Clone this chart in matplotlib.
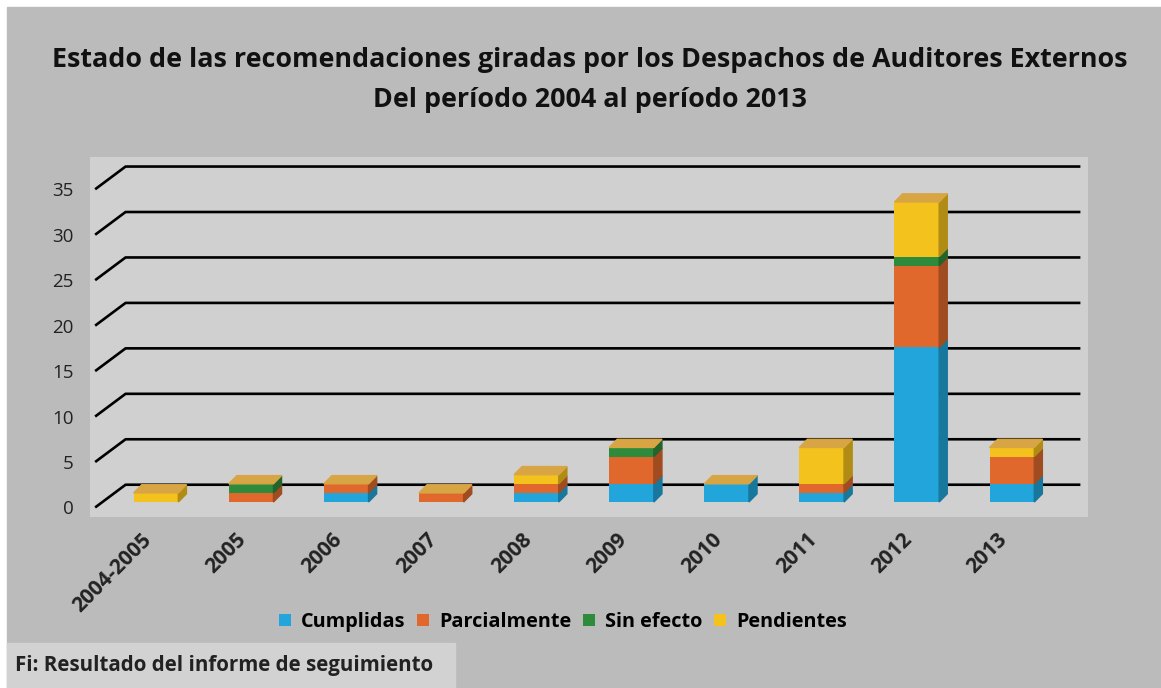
import numpy as np
import matplotlib.pyplot as plt
from matplotlib.patches import Polygon, Rectangle
import matplotlib.colors as mcolors

plt.rcParams['font.family'] = ['Open Sans', 'DejaVu Sans']

# Data
periods = ['2004-2005', '2005', '2006', '2007', '2008',
           '2009', '2010', '2011', '2012', '2013']
cumplidas    = [0, 0, 1, 0, 1, 2, 2, 1, 17, 2]
parcialmente = [0, 1, 1, 1, 1, 3, 0, 1, 9, 3]
sin_efecto   = [0, 1, 0, 0, 0, 1, 0, 0, 1, 0]
pendientes   = [1, 0, 0, 0, 1, 0, 0, 4, 6, 1]

series = [('Cumplidas', cumplidas, '#22a5da'),
          ('Parcialmente', parcialmente, '#e0682c'),
          ('Sin efecto', sin_efecto, '#2f8b3c'),
          ('Pendientes', pendientes, '#f4c21c')]

W, H = 1161, 688
fig = plt.figure(figsize=(W / 100, H / 100), dpi=100)
fig.patch.set_facecolor('white')

# outer grey card and source box
fig.patches.append(Rectangle((7 / W, 0), 1, 1 - 7 / H, transform=fig.transFigure,
                             color='#bbbbbb', zorder=-10))
fig.patches.append(Rectangle((7 / W, 0), (455 - 7) / W, 45 / H, transform=fig.transFigure,
                             color='#d2d2d2', zorder=-9))

ax = fig.add_axes([90 / W, 1 - 517 / H, (1088 - 90) / W, (517 - 157) / H])
ax.set_facecolor('#d0d0d0')
for s in ax.spines.values():
    s.set_visible(False)

x = np.arange(len(periods))
ax.set_xlim(-0.694, 9.80)
ax.set_ylim(-1.65, 37.95)

# back wall gridlines (3D style): front edge slightly below, wall behind
front_off, wall_dy, wall_dx = 0.6, 1.9, 0.32
xl = -0.64
ticks = list(range(0, 40, 5))
for v in ticks:
    ax.plot([xl, xl + wall_dx, 9.72], [v - front_off, v + wall_dy, v + wall_dy],
            color='black', lw=1.9, zorder=1, solid_capstyle='butt')

# 3D-looking stacked bars
bw = 0.47
ddx, ddy = 0.085, 0.9
top_col = '#d8a545'


def darker(c, f=0.72):
    r, g, b = mcolors.to_rgb(c)
    return (r * f, g * f, b * f)


bottom = np.zeros(len(periods))
for name, vals, col in series:
    vals = np.array(vals, dtype=float)
    ax.bar(x, vals, bw, bottom=bottom, color=col, zorder=3, label=name)
    for i in range(len(periods)):
        if vals[i] <= 0:
            continue
        b0, b1 = bottom[i], bottom[i] + vals[i]
        xr = x[i] + bw / 2
        ax.add_patch(Polygon([(xr, b0), (xr + ddx, b0 + ddy), (xr + ddx, b1 + ddy), (xr, b1)],
                             closed=True, color=darker(col), zorder=3))
    bottom += vals

for i in range(len(periods)):
    xl0, xr0 = x[i] - bw / 2, x[i] + bw / 2
    t = bottom[i]
    ax.add_patch(Polygon([(xl0, t), (xl0 + ddx, t + ddy), (xr0 + ddx, t + ddy), (xr0, t)],
                         closed=True, color=top_col, zorder=4))

ax.set_yticks([v - front_off for v in ticks])
ax.set_yticklabels([str(v) for v in ticks], fontsize=13.5, color='#222222')
ax.tick_params(axis='y', length=0, pad=12)
ax.set_xticks(x)
ax.set_xticklabels([])
ax.tick_params(axis='x', length=0)
for i, p in enumerate(periods):
    ax.text(x[i] - 0.16, -3.0, p, rotation=45, rotation_mode='anchor', ha='right', va='top',
            fontsize=15, fontweight='bold', color='#222222', clip_on=False)

fig.text(0.508, 1 - 60 / H,
         'Estado de las recomendaciones giradas por los Despachos de Auditores Externos',
         ha='center', va='center', fontsize=19.4, fontweight='bold', color='#111111')
fig.text(0.508, 1 - 100 / H, 'Del período 2004 al período 2013',
         ha='center', va='center', fontsize=19.4, fontweight='bold', color='#111111')

leg = fig.legend(loc='center', bbox_to_anchor=(563 / W, 1 - 622 / H), ncol=4, frameon=False,
                 handlelength=0.6, handleheight=0.6, handletextpad=0.5,
                 columnspacing=0.6, prop={'weight': 'bold', 'size': 14.3})

fig.text(15 / W, 1 - 665 / H, 'Fi: Resultado del informe de seguimiento',
         ha='left', va='center', fontsize=14.8, fontweight='bold', color='#222222')

plt.savefig('out.png', dpi=100)
